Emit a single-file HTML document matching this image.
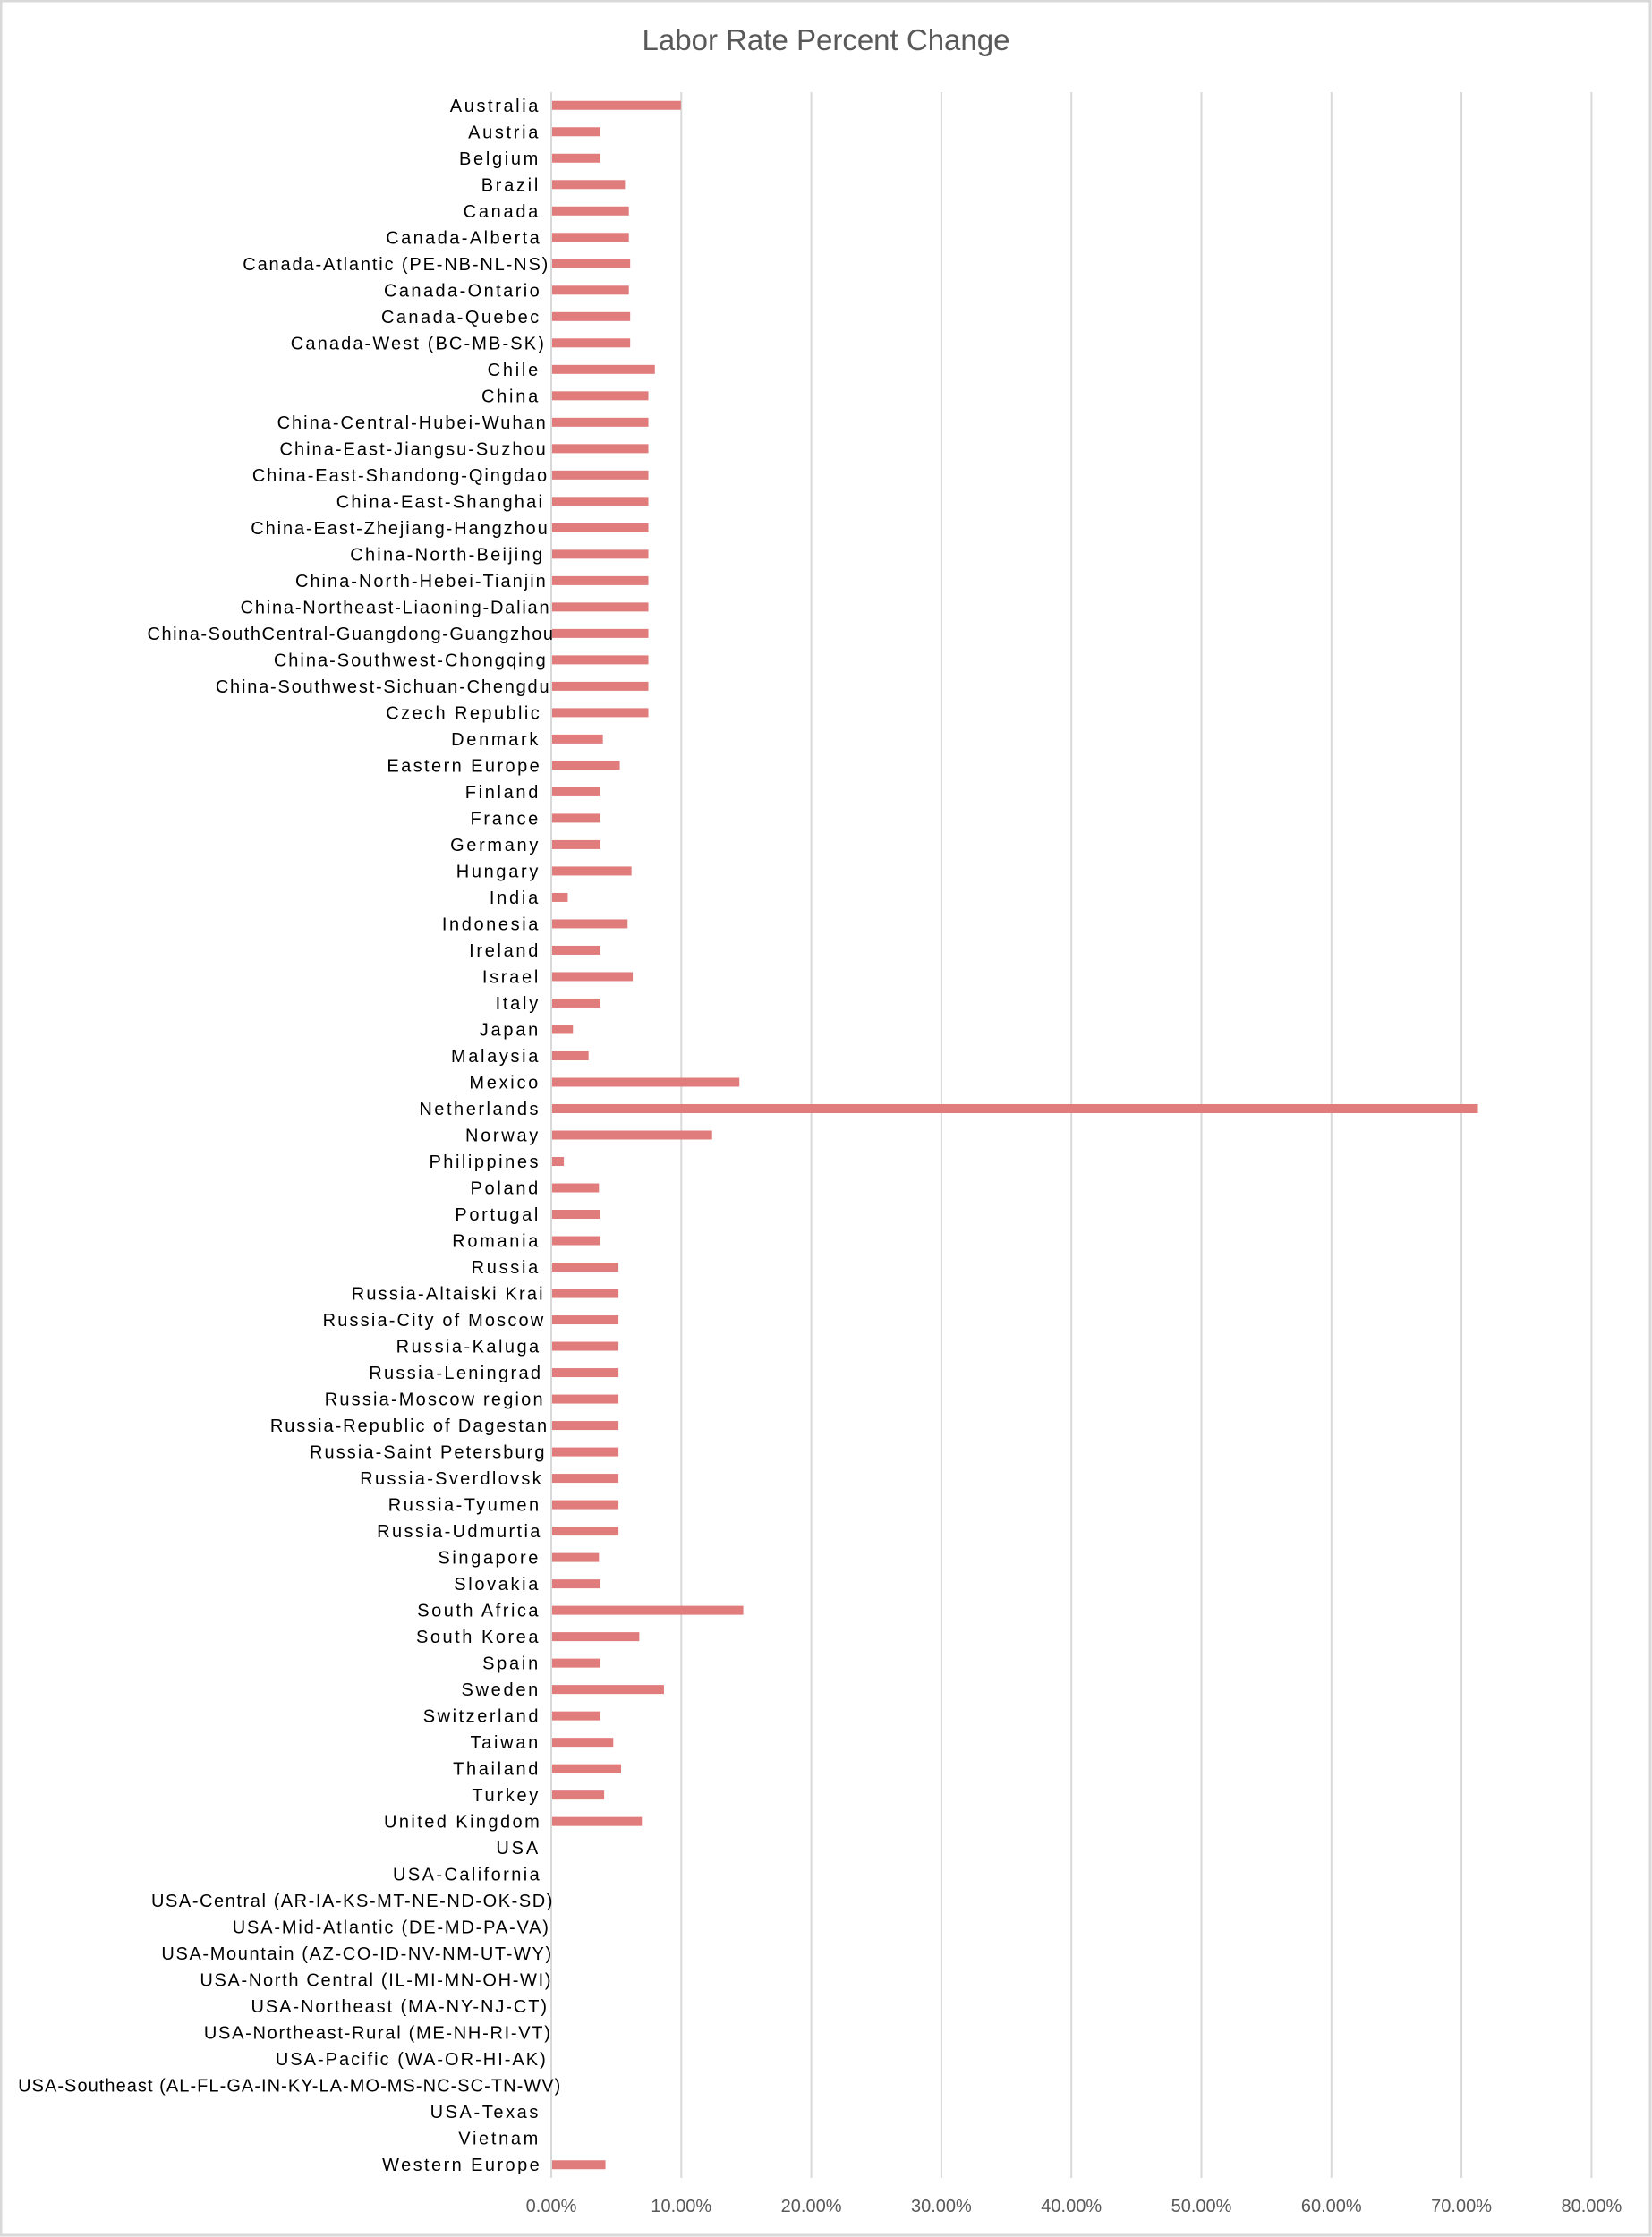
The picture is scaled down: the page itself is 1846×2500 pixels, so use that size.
<!DOCTYPE html>
<html><head><meta charset="utf-8"><style>
html,body{margin:0;padding:0;background:#fff;}
svg{display:block;}
</style></head><body>
<svg id="s" width="1846" height="2500" xmlns="http://www.w3.org/2000/svg" font-family="Liberation Sans, sans-serif"></svg>
<script>
(function(){
const data=[["Australia",9.9],["Austria",3.7],["Belgium",3.7],["Brazil",5.6],["Canada",5.9],["Canada-Alberta",5.9],["Canada-Atlantic (PE-NB-NL-NS)",6.0],["Canada-Ontario",5.9],["Canada-Quebec",6.0],["Canada-West (BC-MB-SK)",6.0],["Chile",7.9],["China",7.4],["China-Central-Hubei-Wuhan",7.4],["China-East-Jiangsu-Suzhou",7.4],["China-East-Shandong-Qingdao",7.4],["China-East-Shanghai",7.4],["China-East-Zhejiang-Hangzhou",7.4],["China-North-Beijing",7.4],["China-North-Hebei-Tianjin",7.4],["China-Northeast-Liaoning-Dalian",7.4],["China-SouthCentral-Guangdong-Guangzhou",7.4],["China-Southwest-Chongqing",7.4],["China-Southwest-Sichuan-Chengdu",7.4],["Czech Republic",7.4],["Denmark",3.9],["Eastern Europe",5.2],["Finland",3.7],["France",3.7],["Germany",3.7],["Hungary",6.1],["India",1.2],["Indonesia",5.8],["Ireland",3.7],["Israel",6.2],["Italy",3.7],["Japan",1.6],["Malaysia",2.8],["Mexico",14.4],["Netherlands",71.2],["Norway",12.3],["Philippines",0.9],["Poland",3.6],["Portugal",3.7],["Romania",3.7],["Russia",5.1],["Russia-Altaiski Krai",5.1],["Russia-City of Moscow",5.1],["Russia-Kaluga",5.1],["Russia-Leningrad",5.1],["Russia-Moscow region",5.1],["Russia-Republic of Dagestan",5.1],["Russia-Saint Petersburg",5.1],["Russia-Sverdlovsk",5.1],["Russia-Tyumen",5.1],["Russia-Udmurtia",5.1],["Singapore",3.6],["Slovakia",3.7],["South Africa",14.7],["South Korea",6.7],["Spain",3.7],["Sweden",8.6],["Switzerland",3.7],["Taiwan",4.7],["Thailand",5.3],["Turkey",4.0],["United Kingdom",6.9],["USA",0],["USA-California",0],["USA-Central (AR-IA-KS-MT-NE-ND-OK-SD)",0],["USA-Mid-Atlantic (DE-MD-PA-VA)",0],["USA-Mountain (AZ-CO-ID-NV-NM-UT-WY)",0],["USA-North Central (IL-MI-MN-OH-WI)",0],["USA-Northeast (MA-NY-NJ-CT)",0],["USA-Northeast-Rural (ME-NH-RI-VT)",0],["USA-Pacific (WA-OR-HI-AK)",0],["USA-Southeast (AL-FL-GA-IN-KY-LA-MO-MS-NC-SC-TN-WV)",0],["USA-Texas",0],["Vietnam",0],["Western Europe",4.1]];
const x0=616,px=14.53,pTop=103,pBot=2434,n=data.length,band=(pBot-pTop)/n;
let h='<rect x="1" y="1" width="1843" height="2497" fill="#fff" stroke="#d9d9d9" stroke-width="3"/>';
h+='<text x="923" y="56" text-anchor="middle" font-size="33" fill="#595959">Labor Rate Percent Change</text>';
for(let i=0;i<=8;i++){const x=x0+i*10*px;h+='<line x1="'+x+'" y1="'+pTop+'" x2="'+x+'" y2="'+pBot+'" stroke="#d9d9d9" stroke-width="2"/>';
h+='<text x="'+x+'" y="2472" text-anchor="middle" font-size="20" fill="#595959">'+(i*10).toFixed(2)+'%</text>';}
data.forEach(function(d,i){const cy=pTop+band*(i+0.5);
if(d[1]>0)h+='<rect x="'+(x0+1)+'" y="'+(cy-5)+'" width="'+(d[1]*px)+'" height="10" fill="#e07c7c"/>';
const L=d[0].length;const rx=604+Math.max(0,L-12)*0.6;
const ls=Math.max(0.9,2.6-0.037*(L-9));
h+='<text x="'+rx+'" y="'+(cy+7)+'" text-anchor="end" font-size="20" letter-spacing="'+ls.toFixed(2)+'" fill="#000">'+d[0]+'</text>';});
document.getElementById('s').innerHTML=h;
})();
</script>
</body></html>
